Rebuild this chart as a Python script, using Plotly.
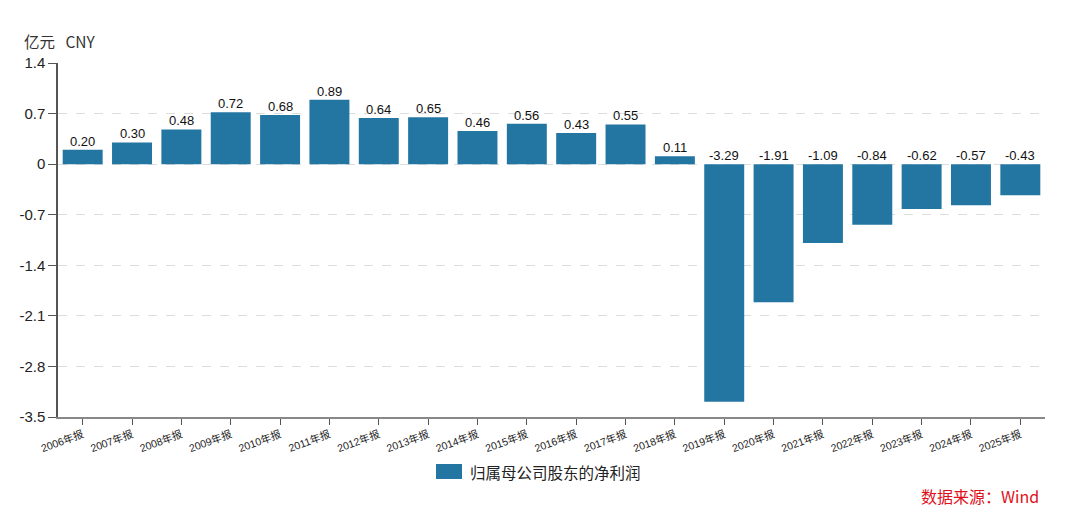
import plotly.graph_objects as go

# data
years = [f"{y}年报" for y in range(2006, 2026)]
profit = [0.20, 0.30, 0.48, 0.72, 0.68, 0.89, 0.64, 0.65, 0.46, 0.56,
          0.43, 0.55, 0.11, -3.29, -1.91, -1.09, -0.84, -0.62, -0.57, -0.43]
y_ticks = [1.4, 0.7, 0, -0.7, -1.4, -2.1, -2.8, -3.5]
series_name = "归属母公司股东的净利润"

bar_color = "#2476a2"
font_family = "Noto Sans CJK SC, Liberation Sans, sans-serif"

fig = go.Figure()

fig.add_trace(go.Bar(
    x=years,
    y=profit,
    name=series_name,
    marker=dict(color=bar_color, line=dict(width=0)),
    showlegend=False,
))

# value labels sit just above the bar top (or above zero line for negatives)
for cat, v in zip(years, profit):
    fig.add_annotation(
        x=cat, y=max(v, 0),
        text=f"{v:.2f}",
        showarrow=False,
        yanchor="bottom",
        yshift=-1,
        font=dict(size=13, color="#111111", family="Liberation Sans, Arial"),
    )

# unit label
fig.add_annotation(
    xref="paper", yref="paper", x=(22 - 58) / 987, y=(417 - 41) / 354,
    xanchor="left", yanchor="middle",
    text="亿元\u00a0\u00a0\u00a0CNY", showarrow=False,
    font=dict(size=15.5, color="#333333", family=font_family),
)

# custom legend
fig.add_shape(
    type="rect", xref="paper", yref="paper",
    x0=(436 - 58) / 987, x1=(462 - 58) / 987,
    y0=-(464 - 417) / 354, y1=-(479 - 417) / 354,
    fillcolor=bar_color, line=dict(width=0),
)
fig.add_annotation(
    xref="paper", yref="paper", x=(468 - 58) / 987, y=-(471.5 - 417) / 354,
    xanchor="left", yanchor="middle",
    text=series_name, showarrow=False,
    font=dict(size=15.5, color="#222222", family=font_family),
)

# source note
fig.add_annotation(
    xref="paper", yref="paper", x=(1041 - 58) / 987, y=-(496 - 417) / 354,
    xanchor="right", yanchor="middle",
    text="数据来源：Wind", showarrow=False,
    font=dict(size=16, color="#e0101a", family=font_family),
)

# page body has an 8px margin, so the figure is sized to fit inside it
fig.update_layout(
    width=1064, height=507,
    margin=dict(l=50, r=27, t=55, b=98),
    plot_bgcolor="white", paper_bgcolor="white",
    bargap=0.19,
    font=dict(family=font_family, color="#333333"),
    xaxis=dict(
        type="category",
        showline=True, linecolor="#888888", linewidth=1.5,
        ticks="outside", ticklen=6, tickcolor="#555555",
        tickangle=-20,
        tickfont=dict(size=10.5, color="#222222", family="Liberation Sans, Noto Sans CJK SC"),
        showgrid=False,
    ),
    yaxis=dict(
        range=[-3.5, 1.4],
        tickvals=y_ticks,
        ticktext=[f"{t:g}" for t in y_ticks],
        showline=True, linecolor="#555555", linewidth=1.5,
        ticks="outside", ticklen=8, tickcolor="#555555",
        tickfont=dict(size=15, color="#222222", family="Liberation Sans, Arial"),
        showgrid=True, gridcolor="#dddddd", griddash="dash", gridwidth=1,
        zeroline=False,
    ),
)

fig.write_html("out.html")
